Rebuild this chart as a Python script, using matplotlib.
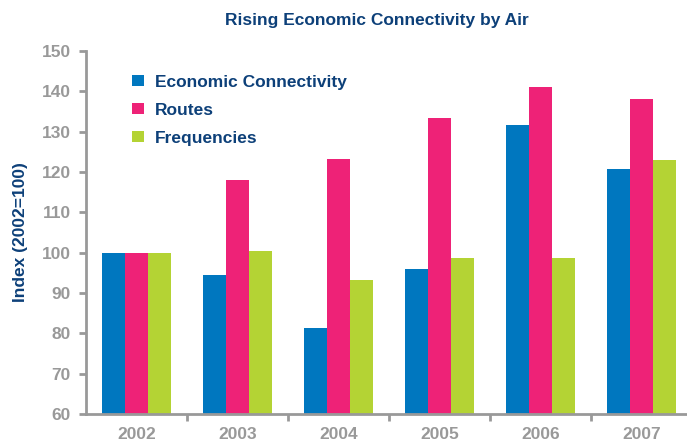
import numpy as np
import matplotlib.pyplot as plt


# -----------------------------
# Data
# -----------------------------
YEARS = ["2002", "2003", "2004", "2005", "2006", "2007"]
ECONOMIC = [100, 94.5, 81.4, 96.0, 131.6, 120.7]
ROUTES = [100, 118.0, 123.1, 133.3, 141.0, 138.2]
FREQUENCIES = [100, 100.3, 93.1, 98.6, 98.8, 123.0]

SERIES = ["Economic Connectivity", "Routes", "Frequencies"]
COLORS = ["#0077BF", "#EE2277", "#B4D334"]

NAVY = "#0D4079"
GREY = "#999999"


# -----------------------------
# Plotting
# -----------------------------
def plot_chart():
    plt.rcParams["font.family"] = ["Liberation Sans", "DejaVu Sans"]

    fig = plt.figure(figsize=(6.87, 4.44), dpi=100)
    ax = fig.add_axes([86 / 687, 30 / 444, 601 / 687, 363 / 444])

    x = np.arange(len(YEARS))
    width = 0.225
    values = [ECONOMIC, ROUTES, FREQUENCIES]
    for i, (name, vals, color) in enumerate(zip(SERIES, values, COLORS)):
        ax.bar(x + (i - 1) * width, vals, width, color=color, label=name,
               linewidth=0)

    ax.set_ylim(60, 150)
    ax.set_xlim(-0.5, -0.5 + 601 / 101)
    ax.set_yticks(np.arange(60, 151, 10))

    # major ticks are the labels, minor ticks mark the category borders
    ax.set_xticks(x)
    ax.set_xticklabels(YEARS)
    ax.set_xticks(x[:-1] + 0.5, minor=True)
    ax.tick_params(axis="x", which="major", length=0, pad=9.5)
    ax.tick_params(axis="x", which="minor", length=5, width=2, color=GREY,
                   direction="out")
    ax.tick_params(axis="y", length=5, width=2, color=GREY, pad=6)

    for label in ax.get_xticklabels() + ax.get_yticklabels():
        label.set_color(GREY)
        label.set_fontsize(12.5)
        label.set_fontweight("bold")

    for side in ["top", "right"]:
        ax.spines[side].set_visible(False)
    for side in ["left", "bottom"]:
        ax.spines[side].set_color(GREY)
        ax.spines[side].set_linewidth(2)

    ax.set_ylabel("Index (2002=100)", color=NAVY, fontsize=12.5,
                  fontweight="bold", labelpad=10)

    fig.text(377 / 687, 1 - 20 / 444, "Rising Economic Connectivity by Air",
             ha="center", va="center", color=NAVY, fontsize=12.5,
             fontweight="bold")

    leg = ax.legend(loc="upper left", bbox_to_anchor=(0.051, 0.978),
                    frameon=False, handlelength=0.65, handleheight=0.65,
                    handletextpad=0.65, labelspacing=0.75, fontsize=12.5)
    for text in leg.get_texts():
        text.set_color(NAVY)
        text.set_fontweight("bold")

    fig.savefig("out.png", dpi=100)


if __name__ == "__main__":
    plot_chart()
